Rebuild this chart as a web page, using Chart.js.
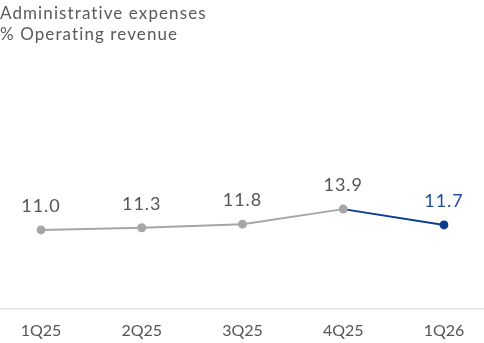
<!DOCTYPE html>
<html>
<head>
<meta charset="utf-8">
<script src="https://cdn.jsdelivr.net/npm/chart.js@4/dist/chart.umd.min.js"></script>
<style>
  html, body { margin: 0; padding: 0; background: #fff; }
  #wrap { position: relative; width: 484px; height: 343px; overflow: hidden; }
  #heading {
    position: absolute; left: 0; top: 2px;
    font-family: Lato, "Open Sans", sans-serif; font-weight: 400; font-size: 17px; line-height: 21px;
    color: #5a5a5a; letter-spacing: 1.1px;
  }
  canvas { position: absolute; left: 0; top: 0; }
</style>
</head>
<body>
<div id="wrap">
  <canvas id="chart" width="484" height="344"></canvas>
  <div id="heading">Administrative expenses<br>% Operating revenue</div>
</div>
<script>
const quarters = ['1Q25', '2Q25', '3Q25', '4Q25', '1Q26'];
const adminRatio = [11.0, 11.3, 11.8, 13.9, 11.7];
const pointColors = ['#a6a6a6', '#a6a6a6', '#a6a6a6', '#a6a6a6', '#0a3d91'];
const labelColors = ['#555555', '#555555', '#555555', '#555555', '#1f4f9c'];

const grey = '#a6a6a6';
const blue = '#0a3d91';
const fontFamily = 'Lato, "Open Sans", sans-serif';

// draws the value above each point and the full-width base line
const valueLabels = {
    id: 'valueLabels',
    beforeDatasetsDraw(chart) {
        const ctx = chart.ctx;
        const y0 = chart.scales.y.getPixelForValue(0);
        ctx.save();
        ctx.strokeStyle = '#e2e2e2';
        ctx.lineWidth = 1.5;
        ctx.beginPath();
        ctx.moveTo(0, y0);
        ctx.lineTo(chart.width, y0);
        ctx.stroke();
        ctx.restore();
    },
    afterDatasetsDraw(chart) {
        const ctx = chart.ctx;
        const meta = chart.getDatasetMeta(0);
        ctx.save();
        ctx.font = '18px ' + fontFamily;
        ctx.letterSpacing = '1px';
        ctx.textAlign = 'center';
        ctx.textBaseline = 'middle';
        meta.data.forEach((pt, i) => {
            ctx.fillStyle = labelColors[i];
            ctx.fillText(adminRatio[i].toFixed(1), pt.x, pt.y - 24);
        });
        ctx.restore();
    }
};

new Chart(document.getElementById('chart'), {
    type: 'line',
    data: {
        labels: quarters,
        datasets: [{
            data: adminRatio,
            borderWidth: 2,
            borderColor: grey,
            segment: {
                borderColor: c => c.p0DataIndex >= 3 ? blue : grey
            },
            pointRadius: 4.5,
            pointBackgroundColor: pointColors,
            pointBorderColor: pointColors,
            pointBorderWidth: 0,
            tension: 0
        }]
    },
    options: {
        responsive: false,
        animation: false,
        layout: { padding: { top: 108, left: 41, right: 40, bottom: 0 } },
        plugins: {
            legend: { display: false },
            tooltip: { enabled: false }
        },
        scales: {
            x: {
                offset: false,
                grid: { display: false },
                border: { display: false },
                ticks: {
                    padding: 4,
                    maxRotation: 0,
                    color: '#555',
                    font: { family: fontFamily, size: 16 }
                }
            },
            y: {
                display: false,
                min: 0,
                max: 28
            }
        }
    },
    plugins: [valueLabels]
});
</script>
</body>
</html>
